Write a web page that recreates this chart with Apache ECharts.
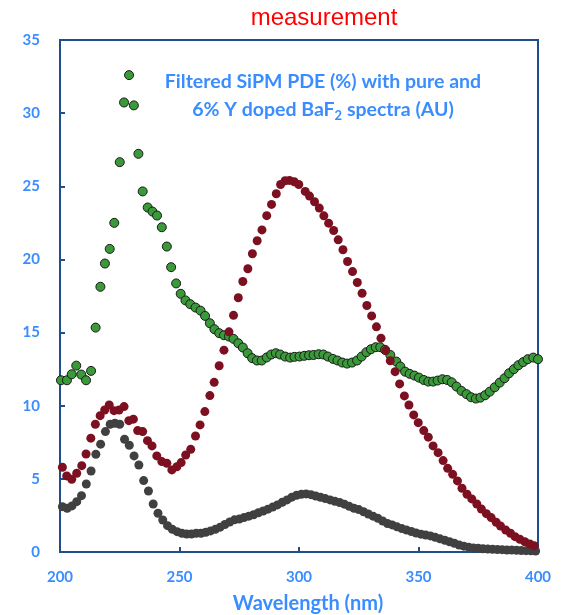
<!DOCTYPE html>
<html>
<head>
<meta charset="utf-8">
<script src="https://cdn.jsdelivr.net/npm/echarts@6/dist/echarts.min.js"></script>
<style>html,body{margin:0;padding:0;background:#fff;}#c{width:565px;height:615px;}</style>
</head>
<body>
<div id="c"></div>
<script>
// Filtered SiPM PDE (%) - green
var pdeX = [200.4,202.9,204.9,206.8,208.9,210.9,213,214.9,216.9,218.8,220.8,222.7,225,226.8,228.9,230.9,232.8,234.6,236.7,238.7,240.6,242.6,244.7,246.5,248.6,250.5,252.5,254.5,256.7,258.8,260.7,262.7,264.6,266.6,268.6,270.7,272.6,274.6,276.5,278.5,280.4,282.4,284.4,286.5,288.4,290.3,292.1,294.2,296.3,298.1,300.2,302.2,304.2,306.1,308.2,310.2,312.1,314.2,316.1,318.1,320.1,322.2,324.3,326.2,328.2,330.1,332.1,334,336,338.2,340.7,342.4,344.4,346.3,348.3,350.2,352.2,354.1,356.1,358,360,362,363.9,365.9,368,370.1,372,374,375.9,377.9,379.8,381.9,384,386,387.9,389.9,391.8,393.8,395.7,398,400];
var pdeY = [11.74,11.74,12.15,12.74,12.13,11.74,12.38,15.34,18.13,19.72,20.72,22.5,26.65,30.73,32.6,30.53,27.22,24.65,23.55,23.27,23.0,22.2,20.88,19.47,18.36,17.65,17.2,16.94,16.71,16.5,16.14,15.64,15.23,14.96,14.82,14.73,14.57,14.27,13.98,13.59,13.25,13.09,13.09,13.3,13.5,13.59,13.5,13.36,13.29,13.34,13.36,13.41,13.45,13.47,13.52,13.5,13.36,13.2,13.09,12.95,12.88,12.95,13.09,13.36,13.66,13.86,14.0,14.0,13.82,13.47,13.02,12.68,12.33,12.18,12.06,11.92,11.76,11.65,11.65,11.72,11.81,11.76,11.6,11.31,11.01,10.79,10.58,10.49,10.55,10.72,10.96,11.26,11.58,11.88,12.22,12.5,12.77,12.98,13.18,13.29,13.18];

// pure BaF2 spectrum (AU) - dark red
var pureX = [201,202.8,204.9,207,209.1,210.9,212.9,214.8,216.8,218.7,220.6,222.6,224.7,226.8,228.8,230.7,232.5,234.6,236.6,238.5,240.5,242.6,244.7,246.8,248.9,250.7,252.6,254.7,256.7,258.6,260.6,262.7,264.5,266.6,268.6,270.7,272.6,274.6,276.5,278.6,280.5,282.5,284.5,286.5,288.5,290.5,292.3,294.2,296,298,299.9,302.6,304.4,306.5,308.5,310.4,312.4,314.5,316.4,318.4,320.3,322.4,324.4,326.4,328.4,330.4,332.4,334.3,336.3,338.2,340.2,342.1,344.1,346,348,349.9,352.2,354.1,356.1,358.2,360.3,362.2,364.3,366.3,368.2,370.3,372.3,374.4,376.3,378.4,380.4,382.5,384.3,386.5,388.5,390.4,392.4,394.5,396.6,398.4,400.3];
var pureY = [5.79,5.2,4.97,5.38,5.9,6.7,7.78,8.73,9.32,9.71,10.05,9.66,9.71,9.94,8.98,9.08,8.3,8.23,7.61,7.25,6.57,6.18,6.07,5.61,5.83,6.11,6.63,7.02,7.93,8.69,9.6,10.69,11.6,12.73,13.8,15.05,16.18,17.38,18.49,19.36,20.39,21.28,22.02,22.99,23.76,24.49,25.12,25.38,25.4,25.31,25.12,24.65,24.33,23.94,23.51,22.98,22.48,21.98,21.34,20.66,19.86,19.17,18.42,17.69,16.85,16.14,15.39,14.62,13.77,13.07,12.33,11.49,10.67,10.05,9.37,8.84,8.3,7.85,7.25,6.79,6.25,5.72,5.31,4.86,4.36,3.95,3.63,3.28,2.94,2.62,2.35,2.03,1.78,1.5,1.28,1.05,0.87,0.7,0.55,0.43,0.32];

// 6% Y doped BaF2 spectrum (AU) - dark gray
var dopedX = [201,203,205,207,209,211,213,215,217,219,221,223,225,227,229,231,233,235,237,239,241,243,245,247,249,251,253,255,257,259,261,263,265,267,269,271,273,275,277,279,281,283,285,287,289,291,293,295,297,299,301,303,305,307,309,311,313,315,317,319,321,323,325,327,329,331,333,335,337,339,341,343,345,347,349,351,353,355,357,359,361,363,365,367,369,371,373,375,377,379,381,383,385,387,389,391,393,395,397,399];
var dopedY = [3.1,2.99,3.15,3.44,3.85,4.65,5.54,6.68,7.37,8.23,8.73,8.8,8.73,7.71,7.3,6.57,5.95,4.88,4.17,3.28,2.65,2.19,1.8,1.55,1.39,1.28,1.23,1.23,1.28,1.28,1.35,1.44,1.55,1.7,1.88,2.05,2.2,2.25,2.35,2.45,2.55,2.68,2.8,2.93,3.07,3.22,3.4,3.56,3.75,3.88,3.95,3.97,3.92,3.83,3.74,3.65,3.56,3.47,3.38,3.27,3.12,2.99,2.9,2.75,2.6,2.45,2.3,2.12,1.95,1.85,1.72,1.6,1.5,1.4,1.3,1.22,1.16,1.1,1.0,0.9,0.8,0.7,0.6,0.48,0.4,0.33,0.28,0.25,0.22,0.2,0.18,0.17,0.16,0.14,0.13,0.12,0.1,0.09,0.08,0.07];

var xTicks = [200, 250, 300, 350, 400];
var yTicks = [0, 5, 10, 15, 20, 25, 30, 35];

function pairs(xs, ys) { return xs.map(function (x, i) { return [x, ys[i]]; }); }

var blue = '#3a8dff';
var axisBlue = '#1f4e8c';

var chart = echarts.init(document.getElementById('c'), null, {renderer: 'canvas'});
chart.setOption({
  animation: false,
  backgroundColor: '#ffffff',
  grid: {left: 60, top: 40, width: 478, height: 512, show: true, borderColor: axisBlue, borderWidth: 2,
         backgroundColor: 'transparent', containLabel: false, outerBoundsMode: 'none'},
  xAxis: {
    type: 'value', min: xTicks[0], max: xTicks[xTicks.length - 1], interval: 50,
    name: 'Wavelength (nm)', nameLocation: 'middle', nameGap: 42,
    nameTextStyle: {color: blue, fontSize: 20, fontWeight: 'bold', fontFamily: 'Lato', padding: [0, 0, 0, 18]},
    axisLine: {show: true, lineStyle: {color: axisBlue, width: 2}},
    axisTick: {show: true, inside: true, length: 5, lineStyle: {color: axisBlue, width: 2}},
    axisLabel: {color: blue, fontSize: 15, fontWeight: 'bold', fontFamily: 'Lato', margin: 18},
    splitLine: {show: false}
  },
  yAxis: {
    type: 'value', min: yTicks[0], max: yTicks[yTicks.length - 1], interval: 5,
    axisLine: {show: true, lineStyle: {color: axisBlue, width: 2}},
    axisTick: {show: true, inside: true, length: 5, lineStyle: {color: axisBlue, width: 2}},
    axisLabel: {color: blue, fontSize: 15, fontWeight: 'bold', fontFamily: 'Lato', margin: 20},
    splitLine: {show: false}
  },
  graphic: [
    {
      type: 'text', x: 324, y: 30, silent: true,
      style: {text: 'measurement', textAlign: 'center', textVerticalAlign: 'bottom',
              fill: '#ff0000', fontSize: 24, fontFamily: 'Liberation Sans'}
    },
    {
      type: 'text', x: 323, y: 68, silent: true,
      style: {
        text: '{a|Filtered SiPM PDE (%) with pure and}\n{a|6% Y doped BaF}{s|2}{a| spectra (AU)}',
        textAlign: 'center',
        rich: {
          a: {fill: blue, fontSize: 19.5, fontWeight: 'bold', fontFamily: 'Lato', lineHeight: 28},
          s: {fill: blue, fontSize: 13, fontWeight: 'bold', fontFamily: 'Lato', lineHeight: 28, padding: [12, 0, 0, 0]}
        }
      }
    }
  ],
  series: [
    {type: 'scatter', name: 'PDE', data: pairs(pdeX, pdeY), symbolSize: 9, z: 2,
     itemStyle: {color: '#3a9a3a', borderColor: '#1a1a1a', borderWidth: 1, opacity: 1}},
    {type: 'scatter', name: 'doped', data: pairs(dopedX, dopedY), symbolSize: 9, z: 3,
     itemStyle: {color: '#404040', opacity: 1}},
    {type: 'scatter', name: 'pure', data: pairs(pureX, pureY), symbolSize: 9, z: 4,
     itemStyle: {color: '#7d1020', opacity: 1}}
  ]
});
</script>
</body>
</html>
